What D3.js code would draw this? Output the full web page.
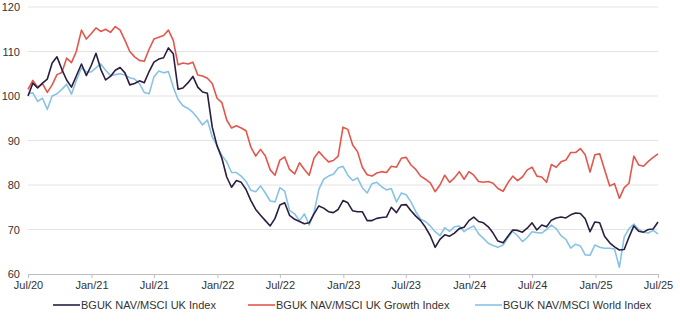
<!DOCTYPE html>
<html>
<head>
<meta charset="utf-8">
<script src="https://cdn.jsdelivr.net/npm/d3@7"></script>
<style>
  body { margin: 0; background: #fff; }
  svg { display: block; font-family: "Liberation Sans", Arial, sans-serif; }
  .tick text { fill: #333; font-size: 11px; }
  .legend-label { fill: #333; font-size: 11px; }
</style>
</head>
<body>
<div id="chart"></div>
<script>
// Rebased to 100 at Jul/20, sampled every ~two weeks up to Jul/25
const START = "2020-07-01";
const END = "2025-07-01";

const ukIndex = [
  100, 102.9, 101.8, 102.9, 103.8, 107.4, 108.8, 106, 103.6, 102,
  104.5, 107.2, 104.6, 106.8, 109.6, 106, 103.6, 104.4, 105.8, 106.4,
  105.2, 102.5, 102.8, 103.4, 103, 105.5, 107.6, 108.3, 108.6, 110.8,
  109.5, 101.5, 101.8, 103, 104.4, 102, 100.9, 100.6, 93, 88.8,
  86, 81.8, 79.5, 81, 80.6, 79, 76.5, 74.5, 73.2, 72,
  70.8, 72.5, 75.5, 76, 73.2, 72.3, 71.8, 71.3, 71.5, 73.5,
  75.3, 74.8, 74, 73.8, 74.5, 76.5, 76, 74.2, 74, 74,
  72, 72, 72.5, 72.7, 72.8, 75, 73.8, 75.5, 75.6, 74.2,
  73, 72, 70.5, 68.6, 66, 67.8, 68.8, 68.5, 69.2, 70.2,
  70.5, 72, 72.8, 71.8, 71.5, 70.6, 69.2, 67.4, 67, 68.5,
  69.9, 69.8, 69.4, 70.3, 71.5, 69.9, 71, 70.6, 72.1, 72.6,
  72.8, 72.6, 73.3, 73.7, 73.6, 72.4, 69.5, 71.7, 71.5, 68.5,
  67, 66.1, 65.4, 65.5, 68.3, 70.8, 69.6, 69.4, 70, 70.1,
  71.7
];

const ukGrowth = [
  101.5, 103.5, 102, 102.8, 100.8, 102.5, 104.8, 105.3, 108.5, 107.5,
  110, 114.8, 112.8, 114, 115.3, 114.5, 115, 114.3, 115.6, 114.8,
  112.5, 110, 108.8, 108, 107.8, 110.5, 112.8, 113.2, 113.6, 114.8,
  112.5, 107, 107.4, 107.2, 107.6, 104.7, 104.5, 104, 102.8, 99.5,
  98.5, 94.6, 92.8, 93.3, 92.8, 92.2, 88.5, 86.5, 88, 86.5,
  83.4, 82.2, 85.6, 86.3, 83.5, 82.5, 85, 83.5, 82.2, 86,
  87.5, 86.3, 85.2, 85.5, 86.5, 93, 92.5, 89, 87.5, 84,
  82.3, 82, 82.7, 83, 82.8, 84.2, 84, 86, 86.2, 84.5,
  83.5, 82, 81.3, 80.5, 78.5, 80, 82.2, 80.6, 81.6, 83,
  81.3, 83, 82.2, 80.8, 80.6, 80.8, 80.4, 79.2, 78.6, 80.5,
  82, 81, 81.8, 83.4, 84, 82, 81.8, 80.6, 84.6, 84,
  85.2, 85.6, 87.3, 87.3, 88.2, 86.8, 82.9, 86.8, 87, 83.5,
  79.8, 80.3, 77, 79.4, 80.4, 86.5, 84.5, 84.2, 85.3, 86.2,
  87
];

const world = [
  100.5, 100.7, 98.8, 99.5, 97, 100, 100.5, 101.5, 102.6, 100.4,
  103.5, 106.3, 105.4, 105.4, 106.3, 107.2, 105.8, 104.6, 104.8, 105,
  104.7, 104.1, 103.8, 102.8, 100.8, 100.5, 104.3, 105.6, 105.2, 105.5,
  102, 99.2, 97.8, 97.2, 96.3, 95, 93.5, 94.6, 90.8, 88.8,
  86.6, 85.2, 82.8, 82.8, 82, 80.8, 78.8, 78.5, 79.8, 78.2,
  76.4, 76.2, 79.4, 78.6, 74.3, 73.5, 72, 73.5, 71, 73.8,
  79, 81.3, 82, 82.4, 83.8, 84.2, 82.2, 81, 81.6, 79.4,
  78.2, 80.3, 80.6, 79.6, 78.9, 79.2, 76.2, 78.2, 77.8, 76.2,
  74, 72.3, 71.8, 70.8, 69.5, 68.6, 70.4, 69.6, 70.6, 70.8,
  69.5, 70.3, 70.8, 69, 68, 66.9, 66.4, 66, 66.5, 68.2,
  69.6, 68.6, 67.3, 68.2, 69.5, 69.3, 69.2, 70, 71, 70.2,
  68.6, 67.8, 65.8, 66.7, 66.3, 64.3, 64.2, 66.5, 66, 65.8,
  65.8, 65.6, 61.5, 68.3, 70.2, 71.2, 70, 69.4, 69.2, 69.8,
  69
];

const seriesNames = [
  "BGUK NAV/MSCI UK Index",
  "BGUK NAV/MSCI UK Growth Index",
  "BGUK NAV/MSCI World Index"
];
const seriesColors = ["#2b1d3f", "#e2574c", "#88c3e6"];
const yTicks = [60, 70, 80, 90, 100, 110, 120];
const xTickLabels = ["Jul/20", "Jan/21", "Jul/21", "Jan/22", "Jul/22", "Jan/23",
  "Jul/23", "Jan/24", "Jul/24", "Jan/25", "Jul/25"];

const W = 680, H = 322;
const margin = { top: 7, right: 22, bottom: 48, left: 28 };
const iw = W - margin.left - margin.right;
const ih = H - margin.top - margin.bottom;

const parse = d3.utcParse("%Y-%m-%d");
const t0 = parse(START), t1 = parse(END);
const nPts = ukIndex.length;
const totalDays = d3.utcDay.count(t0, t1);
const dates = d3.range(nPts).map(i => d3.utcDay.offset(t0, Math.round(i * totalDays / (nPts - 1))));

const x = d3.scaleUtc().domain([t0, t1]).range([0, iw]);
const y = d3.scaleLinear().domain([60, 120]).range([ih, 0]);

const svg = d3.select("#chart").append("svg")
  .attr("width", W).attr("height", H);

const g = svg.append("g").attr("transform", `translate(${margin.left},${margin.top})`);

// gridlines
g.append("g")
  .selectAll("line")
  .data(yTicks.filter(v => v > 60))
  .join("line")
  .attr("x1", 0).attr("x2", iw)
  .attr("y1", d => y(d)).attr("y2", d => y(d))
  .attr("stroke", "#e3e3e3").attr("stroke-width", 1);

// y axis (labels only)
const yAxis = g.append("g")
  .call(d3.axisLeft(y).tickValues(yTicks).tickSize(0).tickPadding(8));
yAxis.select(".domain").remove();

// x axis
const xTickDates = d3.utcMonth.every(6).range(t0, d3.utcDay.offset(t1, 1));
const xAxis = g.append("g")
  .attr("transform", `translate(0,${ih})`)
  .call(d3.axisBottom(x).tickValues(xTickDates)
    .tickFormat((d, i) => xTickLabels[i]).tickSize(4).tickPadding(3));
xAxis.select(".domain").attr("stroke", "#bdbdbd");
xAxis.selectAll(".tick line").attr("stroke", "#bdbdbd");

// lines
const allSeries = [ukIndex, ukGrowth, world];
const line = d3.line()
  .x((d, i) => x(dates[i]))
  .y(d => y(d));

// draw order: growth, world, uk index on top
[1, 2, 0].forEach(k => {
  g.append("path")
    .datum(allSeries[k])
    .attr("fill", "none")
    .attr("stroke", seriesColors[k])
    .attr("stroke-width", 1.6)
    .attr("stroke-linejoin", "round")
    .attr("d", line);
});

// legend
const legendX = [53, 248, 475];
const legend = svg.append("g").attr("transform", `translate(0,305)`);
seriesNames.forEach((name, k) => {
  const item = legend.append("g").attr("transform", `translate(${legendX[k]},0)`);
  item.append("line")
    .attr("x1", 0).attr("x2", 27)
    .attr("y1", 0).attr("y2", 0)
    .attr("stroke", seriesColors[k]).attr("stroke-width", 1.6);
  item.append("text")
    .attr("class", "legend-label")
    .attr("x", 28).attr("y", 4)
    .text(name);
});
</script>
</body>
</html>
